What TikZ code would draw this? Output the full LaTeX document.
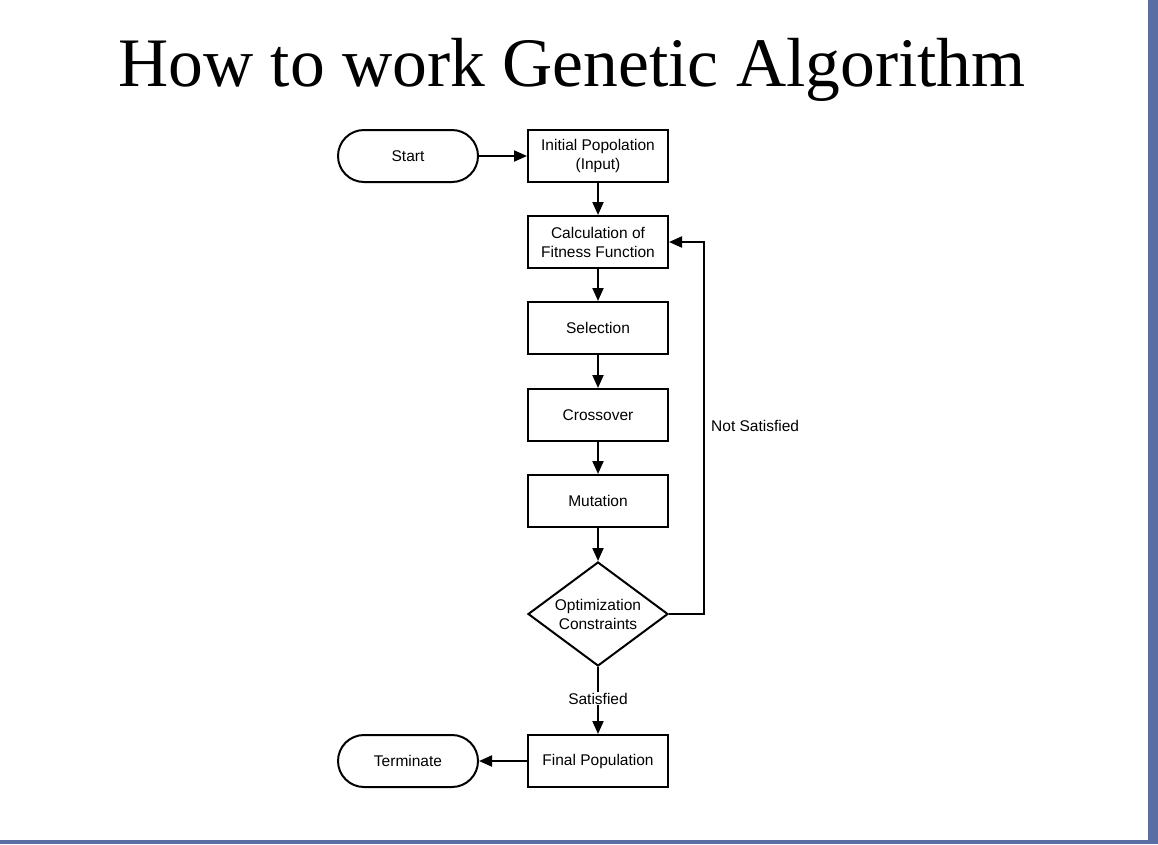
\documentclass[tikz,border=0pt]{standalone}
\usepackage{fontspec}
\setmainfont{Liberation Sans}
\newfontfamily\titlefont{Liberation Serif}
\usetikzlibrary{shapes.geometric,arrows.meta}
\definecolor{frame}{HTML}{5A6EA3}
\tikzset{
  box/.style={draw, line width=2pt, minimum width=140pt, minimum height=52pt, inner sep=0pt, align=center, font=\fontsize{15.5}{19}\selectfont},
  pill/.style={box, rounded corners=26pt},
  dec/.style={draw, diamond, line width=2pt, minimum width=140pt, minimum height=104pt, inner sep=0pt, aspect=1.34, align=center, font=\fontsize{15.5}{19}\selectfont},
  link/.style={line width=2pt, -{Triangle[length=13pt,width=11pt]}},
  lbl/.style={font=\fontsize{15.5}{19}\selectfont, inner sep=1pt}
}
\begin{document}
\begin{tikzpicture}[x=1pt,y=-1pt]
\fill[white] (0,0) rectangle (1158,844);
\useasboundingbox (0,0) rectangle (1158,844);
\fill[frame] (1148,0) rectangle (1158,844);
\fill[frame] (0,840) rectangle (1158,844);
\node[anchor=base, inner sep=0pt] (title) at (572,86) {\titlefont\fontsize{69.5}{74}\selectfont How to work Genetic Algorithm};
\node[pill] (start) at (408,156) {Start};
\node[box] (init) at (598,156) {Initial Popolation\\(Input)};
\node[box] (calc) at (598,242) {Calculation of\\Fitness Function};
\node[box] (sel) at (598,328) {Selection};
\node[box] (cross) at (598,415) {Crossover};
\node[box] (mut) at (598,501) {Mutation};
\node[dec] (opt) at (598,614) {Optimization\\Constraints};
\node[box] (final) at (598,761) {Final Population};
\node[pill] (term) at (408,761) {Terminate};
\coordinate (turn1) at (704,614);
\coordinate (turn2) at (704,242);
\draw[link] (start) -- (init);
\draw[link] (init) -- (calc);
\draw[link] (calc) -- (sel);
\draw[link] (sel) -- (cross);
\draw[link] (cross) -- (mut);
\draw[link] (mut) -- (opt);
\draw[link] (opt) -- node[lbl, fill=white, pos=0.47] (satl) {Satisfied} (final);
\draw[link] (final) -- (term);
\draw[link] (opt.east) -- (turn1) -- (turn2) -- (calc.east);
\node[lbl, anchor=west] (nsat) at (710,426) {Not Satisfied};
\end{tikzpicture}
\end{document}
